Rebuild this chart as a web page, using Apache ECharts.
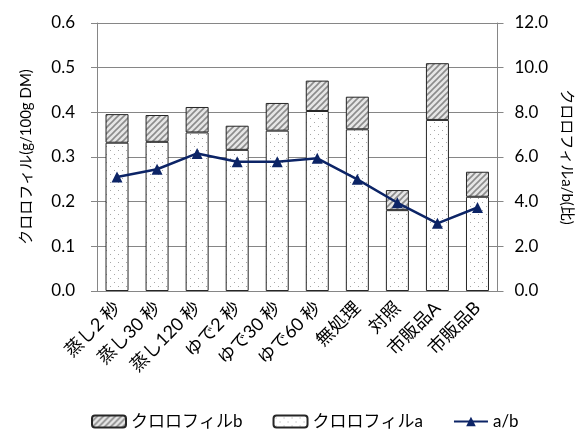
<!DOCTYPE html>
<html>
<head>
<meta charset="utf-8">
<script src="https://cdn.jsdelivr.net/npm/echarts@6/dist/echarts.min.js"></script>
<style>
  html, body { margin: 0; padding: 0; background: #fff; }
  #chart { width: 582px; height: 433px; }
</style>
</head>
<body>
<div id="chart"></div>
<script>
const categories = ['蒸し2 秒', '蒸し30 秒', '蒸し120 秒', 'ゆで2 秒', 'ゆで30 秒', 'ゆで60 秒', '無処理', '対照', '市販品A', '市販品B']
const chlA = [0.332, 0.334, 0.355, 0.316, 0.359, 0.403, 0.362, 0.181, 0.383, 0.211]
const chlB = [0.064, 0.060, 0.057, 0.054, 0.062, 0.068, 0.073, 0.045, 0.127, 0.056]
const ratio = [5.1, 5.45, 6.16, 5.79, 5.79, 5.94, 5.0, 3.95, 3.03, 3.74]

const FONT = "Lato, 'Noto Sans CJK JP'"

// hatch tile for chlorophyll b
function hatchTile () {
  const c = document.createElement('canvas')
  c.width = 6
  c.height = 6
  const ctx = c.getContext('2d')
  ctx.fillStyle = '#e6e6e6'
  ctx.fillRect(0, 0, 6, 6)
  ctx.strokeStyle = '#8c8c8c'
  ctx.lineWidth = 1.6
  ctx.beginPath()
  ctx.moveTo(-1, 7); ctx.lineTo(7, -1)
  ctx.moveTo(-4, 4); ctx.lineTo(4, -4)
  ctx.moveTo(2, 10); ctx.lineTo(10, 2)
  ctx.stroke()
  return c
}

// dotted tile for chlorophyll a
function dotTile () {
  const c = document.createElement('canvas')
  c.width = 8
  c.height = 8
  const ctx = c.getContext('2d')
  ctx.fillStyle = '#ffffff'
  ctx.fillRect(0, 0, 8, 8)
  ctx.fillStyle = '#a6a6a6'
  ctx.fillRect(2, 2, 1, 1)
  ctx.fillRect(6, 6, 1, 1)
  return c
}

const chart = echarts.init(document.getElementById('chart'))
const option = {
  animation: false,
  grid: { left: 97, right: 76, top: 23, bottom: 142 },
  legend: {
    top: 408,
    left: 86,
    itemWidth: 34,
    itemHeight: 12,
    itemGap: 30,
    textStyle: { fontFamily: FONT, fontSize: 17, color: '#000' },
    data: ['クロロフィルb', 'クロロフィルa', 'a/b']
  },
  xAxis: {
    type: 'category',
    data: categories,
    axisLine: { lineStyle: { color: '#868686' } },
    axisTick: { alignWithLabel: false, length: 5, lineStyle: { color: '#868686' } },
    axisLabel: {
      rotate: 45,
      interval: 0,
      margin: 14,
      fontFamily: FONT,
      fontSize: 18,
      color: '#000'
    }
  },
  yAxis: [
    {
      type: 'value',
      min: 0,
      max: 0.6,
      interval: 0.1,
      name: 'クロロフィル(g/100g DM)',
      nameLocation: 'middle',
      nameGap: 63,
      nameTextStyle: { fontFamily: FONT, fontSize: 15, color: '#000' },
      axisLine: { show: true, lineStyle: { color: '#868686' } },
      axisTick: { show: true, length: 6, lineStyle: { color: '#868686' } },
      axisLabel: { formatter: v => v.toFixed(1), fontFamily: FONT, fontSize: 17, color: '#000', margin: 22 },
      splitLine: { lineStyle: { color: '#868686' } }
    },
    {
      type: 'value',
      min: 0,
      max: 12,
      interval: 2,
      name: 'クロロフィルa/b(比)',
      nameLocation: 'middle',
      nameGap: 54,
      nameRotate: -90,
      nameTextStyle: { fontFamily: FONT, fontSize: 15, color: '#000' },
      axisLine: { show: true, lineStyle: { color: '#868686' } },
      axisTick: { show: true, length: 6, lineStyle: { color: '#868686' } },
      axisLabel: { formatter: v => v.toFixed(1), fontFamily: FONT, fontSize: 17, color: '#000', margin: 17 },
      splitLine: { show: false }
    }
  ],
  series: [
    {
      name: 'クロロフィルa',
      type: 'bar',
      stack: 'chl',
      barWidth: 23,
      data: chlA,
      itemStyle: {
        color: { image: dotTile(), repeat: 'repeat' },
        borderColor: '#262626',
        borderWidth: 1
      }
    },
    {
      name: 'クロロフィルb',
      type: 'bar',
      stack: 'chl',
      barWidth: 23,
      data: chlB,
      itemStyle: {
        color: { image: hatchTile(), repeat: 'repeat' },
        borderColor: '#262626',
        borderWidth: 1
      }
    },
    {
      name: 'a/b',
      type: 'line',
      yAxisIndex: 1,
      data: ratio,
      symbol: 'triangle',
      symbolSize: 11,
      lineStyle: { color: '#0c2466', width: 2.5 },
      itemStyle: { color: '#0c2466' }
    }
  ]
}
chart.setOption(option)
</script>
</body>
</html>
